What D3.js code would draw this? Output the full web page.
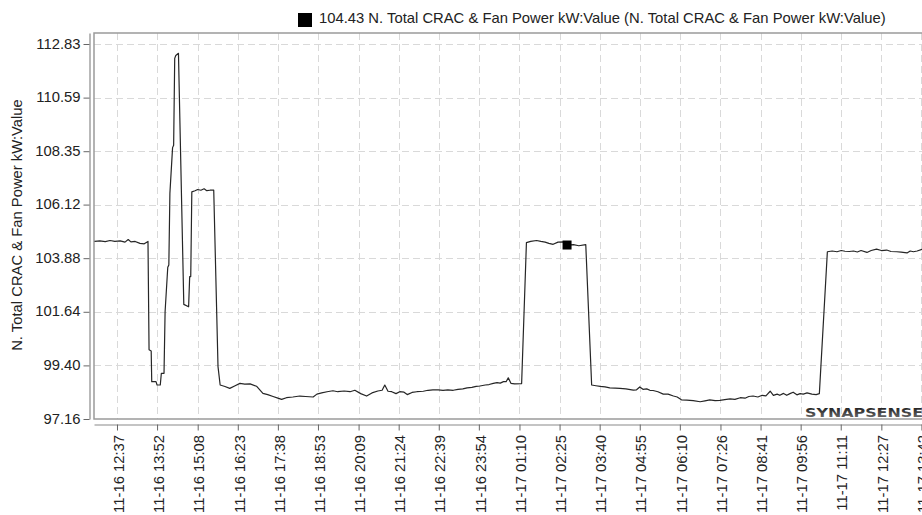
<!DOCTYPE html>
<html>
<head>
<meta charset="utf-8">
<script src="https://cdn.jsdelivr.net/npm/d3@7/dist/d3.min.js"></script>
<style>
  html, body { margin: 0; padding: 0; background: #fff; }
  svg { display: block; font-family: "Liberation Sans", Arial, sans-serif; }
</style>
</head>
<body>
<svg id="chart" width="922" height="515"></svg>
<script>
// ---------------- DATA ----------------
const seriesName = "N. Total CRAC & Fan Power kW:Value";

const times = [
  "11-16 11:55","11-16 12:05","11-16 12:15","11-16 12:24","11-16 12:33","11-16 12:43","11-16 12:52","11-16 12:58",
  "11-16 13:03","11-16 13:11","11-16 13:20","11-16 13:28","11-16 13:35","11-16 13:37","11-16 13:41","11-16 13:42",
  "11-16 13:50","11-16 13:52","11-16 13:58","11-16 14:00","11-16 14:05","11-16 14:07","11-16 14:12","11-16 14:14",
  "11-16 14:16","11-16 14:21","11-16 14:23","11-16 14:25","11-16 14:27","11-16 14:32","11-16 14:42","11-16 14:51",
  "11-16 14:53","11-16 14:55","11-16 14:57","11-16 15:03","11-16 15:08","11-16 15:14","11-16 15:20","11-16 15:25",
  "11-16 15:31","11-16 15:38","11-16 15:46","11-16 15:50","11-16 15:59","11-16 16:08","11-16 16:18","11-16 16:27",
  "11-16 16:36","11-16 16:46","11-16 16:58","11-16 17:10","11-16 17:19","11-16 17:29","11-16 17:38","11-16 17:45",
  "11-16 17:54","11-16 18:06","11-16 18:19","11-16 18:30","11-16 18:44","11-16 18:51","11-16 19:00","11-16 19:10",
  "11-16 19:21","11-16 19:30","11-16 19:42","11-16 19:53","11-16 20:02","11-16 20:13","11-16 20:24","11-16 20:34",
  "11-16 20:45","11-16 20:53","11-16 20:58","11-16 21:04","11-16 21:11","11-16 21:19","11-16 21:26","11-16 21:34",
  "11-16 21:40","11-16 21:49","11-16 21:58","11-16 22:10","11-16 22:19","11-16 22:28","11-16 22:38","11-16 22:47",
  "11-16 22:56","11-16 23:06","11-16 23:15","11-16 23:24","11-16 23:32","11-16 23:41","11-16 23:49","11-16 23:56",
  "11-17 00:06","11-17 00:13","11-17 00:21","11-17 00:28","11-17 00:34","11-17 00:40","11-17 00:45","11-17 00:49",
  "11-17 00:54","11-17 01:01","11-17 01:14","11-17 01:23","11-17 01:31","11-17 01:42","11-17 01:50","11-17 01:58",
  "11-17 02:05","11-17 02:13","11-17 02:22","11-17 02:32","11-17 02:39","11-17 02:51","11-17 03:01","11-17 03:14",
  "11-17 03:25","11-17 03:33","11-17 03:41","11-17 03:50","11-17 03:59","11-17 04:09","11-17 04:18","11-17 04:29",
  "11-17 04:43","11-17 04:49","11-17 04:55","11-17 05:01","11-17 05:08","11-17 05:14","11-17 05:20","11-17 05:29",
  "11-17 05:39","11-17 05:48","11-17 05:58","11-17 06:05","11-17 06:13","11-17 06:23","11-17 06:35","11-17 06:48",
  "11-17 06:57","11-17 07:06","11-17 07:16","11-17 07:25","11-17 07:34","11-17 07:44","11-17 07:53","11-17 08:03",
  "11-17 08:12","11-17 08:19","11-17 08:27","11-17 08:36","11-17 08:44","11-17 08:51","11-17 08:59","11-17 09:05",
  "11-17 09:12","11-17 09:17","11-17 09:24","11-17 09:30","11-17 09:36","11-17 09:42","11-17 09:49","11-17 09:55",
  "11-17 10:01","11-17 10:08","11-17 10:17","11-17 10:25","11-17 10:31","11-17 10:46","11-17 10:55","11-17 11:04",
  "11-17 11:12","11-17 11:19","11-17 11:27","11-17 11:35","11-17 11:42","11-17 11:49","11-17 12:00","11-17 12:08",
  "11-17 12:18","11-17 12:27","11-17 12:37","11-17 12:45","11-17 12:56","11-17 13:04","11-17 13:15","11-17 13:21",
  "11-17 13:27","11-17 13:34","11-17 13:43","11-17 13:49"
];

const values = [
  104.58,104.60,104.57,104.62,104.58,104.60,104.55,104.66,
  104.56,104.58,104.50,104.48,104.58,100.05,100.00,98.72,
  98.72,98.58,98.58,99.07,99.07,101.64,103.50,103.60,
  106.60,108.50,108.60,112.23,112.35,112.44,101.95,101.85,
  103.11,103.11,106.65,106.70,106.75,106.72,106.78,106.70,
  106.72,106.72,99.35,98.58,98.52,98.44,98.55,98.65,
  98.62,98.63,98.53,98.23,98.18,98.10,98.03,97.98,
  98.05,98.08,98.12,98.10,98.08,98.20,98.25,98.30,
  98.34,98.30,98.33,98.30,98.36,98.22,98.12,98.25,
  98.33,98.36,98.58,98.32,98.30,98.22,98.30,98.28,
  98.18,98.27,98.30,98.32,98.36,98.38,98.38,98.36,
  98.38,98.36,98.40,98.42,98.46,98.48,98.52,98.54,
  98.58,98.60,98.65,98.68,98.66,98.72,98.72,98.88,
  98.65,98.63,98.64,104.53,104.58,104.62,104.58,104.55,
  104.50,104.46,104.55,104.56,104.43,104.45,104.40,104.45,
  98.58,98.55,98.52,98.50,98.46,98.45,98.44,98.42,
  98.37,98.38,98.50,98.40,98.42,98.36,98.35,98.30,
  98.20,98.20,98.12,98.08,97.96,97.95,97.93,97.88,
  97.92,97.96,97.93,97.94,97.97,98.00,97.98,98.05,
  98.03,98.10,98.12,98.08,98.15,98.13,98.32,98.15,
  98.20,98.15,98.23,98.15,98.22,98.28,98.17,98.22,
  98.20,98.25,98.20,98.18,98.22,104.15,104.18,104.15,
  104.20,104.17,104.16,104.18,104.14,104.20,104.12,104.20,
  104.26,104.20,104.22,104.16,104.15,104.13,104.10,104.18,
  104.15,104.18,104.25,104.22
];

const markerTime = "11-17 02:39";
const markerValue = 104.43;

const xTickLabels = [
  "11-16 12:37","11-16 13:52","11-16 15:08","11-16 16:23","11-16 17:38","11-16 18:53","11-16 20:09",
  "11-16 21:24","11-16 22:39","11-16 23:54","11-17 01:10","11-17 02:25","11-17 03:40","11-17 04:55",
  "11-17 06:10","11-17 07:26","11-17 08:41","11-17 09:56","11-17 11:11","11-17 12:27","11-17 13:42"
];
const yTickValues = [97.16, 99.40, 101.64, 103.88, 106.12, 108.35, 110.59, 112.83];

const xDomain = ["11-16 11:54", "11-17 13:58"];
const yDomain = [97.16, 113.29];

// ---------------- CHART ----------------
const parse = d3.timeParse("%m-%d %H:%M");
const svg = d3.select("#chart");
const FONT = "14.8px";

const plot = { left: 94, top: 33, right: 930, bottom: 419 };

const x = d3.scaleTime().domain(xDomain.map(parse)).range([plot.left, plot.right]);
const y = d3.scaleLinear().domain(yDomain).range([plot.bottom, plot.top]);

const data = times.map((t, i) => ({ t: parse(t), v: values[i] }));
const xTicks = xTickLabels.map(parse);

svg.append("defs").append("clipPath").attr("id", "clip")
  .append("rect").attr("x", plot.left).attr("y", plot.top)
  .attr("width", plot.right - plot.left).attr("height", plot.bottom - plot.top);

// grid
const grid = svg.append("g").attr("clip-path", "url(#clip)");
grid.selectAll("line.h").data(yTickValues).join("line")
  .attr("x1", plot.left).attr("x2", plot.right)
  .attr("y1", d => Math.round(y(d)) + 0.5).attr("y2", d => Math.round(y(d)) + 0.5)
  .attr("stroke", "#d9d9d9").attr("stroke-width", 1).attr("stroke-dasharray", "7,4");
grid.selectAll("line.v").data(xTicks).join("line")
  .attr("y1", plot.top).attr("y2", plot.bottom)
  .attr("x1", d => Math.round(x(d)) + 0.5).attr("x2", d => Math.round(x(d)) + 0.5)
  .attr("stroke", "#d9d9d9").attr("stroke-width", 1).attr("stroke-dasharray", "7,4");

// frame
svg.append("rect")
  .attr("x", plot.left).attr("y", plot.top)
  .attr("width", plot.right - plot.left).attr("height", plot.bottom - plot.top)
  .attr("fill", "none").attr("stroke", "#9a9a9a").attr("stroke-width", 1.5);

// line
svg.append("path").datum(data)
  .attr("clip-path", "url(#clip)")
  .attr("fill", "none").attr("stroke", "#262626").attr("stroke-width", 1.2)
  .attr("stroke-linejoin", "round")
  .attr("d", d3.line().x(d => x(d.t)).y(d => y(d.v)));

// watermark
const wg = svg.append("defs").append("linearGradient").attr("id", "wm")
  .attr("x1", 0).attr("y1", 0).attr("x2", 0).attr("y2", 1);
wg.append("stop").attr("offset", "0%").attr("stop-color", "#111");
wg.append("stop").attr("offset", "100%").attr("stop-color", "#777");
svg.append("text")
  .attr("x", 805).attr("y", 417)
  .attr("textLength", 118).attr("lengthAdjust", "spacingAndGlyphs")
  .style("font-family", "'DejaVu Sans', sans-serif").style("font-weight", "bold")
  .style("font-size", "13px").attr("fill", "url(#wm)")
  .text("SYNAPSENSE");

// marker
const mx = x(parse(markerTime)), my = y(markerValue);
svg.append("rect").attr("x", mx - 4.5).attr("y", my - 4.5).attr("width", 9).attr("height", 9).attr("fill", "#000");

// y axis
const yAxis = svg.append("g").attr("transform", "translate(89.5,0)")
  .call(d3.axisLeft(y).tickValues(yTickValues).tickFormat(d => d.toFixed(2)).tickSize(6).tickSizeOuter(0));
yAxis.select(".domain").attr("stroke", "#8a8a8a").attr("stroke-width", 1.2);
yAxis.selectAll(".tick line").attr("stroke", "#666");
yAxis.selectAll(".tick text").attr("x", -9).attr("dy", "0.28em")
  .style("font-family", "'Liberation Sans', Arial, sans-serif").style("font-size", FONT).attr("fill", "#222");

// x axis
const xAxis = svg.append("g").attr("transform", "translate(0,424.5)")
  .call(d3.axisBottom(x).tickValues(xTicks).tickFormat((d, i) => xTickLabels[i]).tickSize(6).tickSizeOuter(0));
xAxis.select(".domain").attr("stroke", "#8a8a8a").attr("stroke-width", 1.2);
xAxis.selectAll(".tick line").attr("stroke", "#666");
xAxis.selectAll(".tick text")
  .attr("transform", "translate(0,10.5) rotate(-90)")
  .attr("x", 0).attr("y", 0).attr("dy", "0.42em")
  .attr("text-anchor", "end")
  .style("font-family", "'Liberation Sans', Arial, sans-serif").style("font-size", FONT).attr("fill", "#222");

// y title
svg.append("text")
  .attr("transform", "translate(22,225) rotate(-90)")
  .attr("text-anchor", "middle")
  .style("font-size", FONT).attr("fill", "#222")
  .text(seriesName);

// legend
svg.append("rect").attr("x", 298).attr("y", 13).attr("width", 14).attr("height", 14).attr("fill", "#000");
svg.append("text").attr("x", 319).attr("y", 23)
  .style("font-size", FONT).attr("fill", "#222")
  .text(markerValue.toFixed(2) + " " + seriesName + " (" + seriesName + ")");
</script>
</body>
</html>
